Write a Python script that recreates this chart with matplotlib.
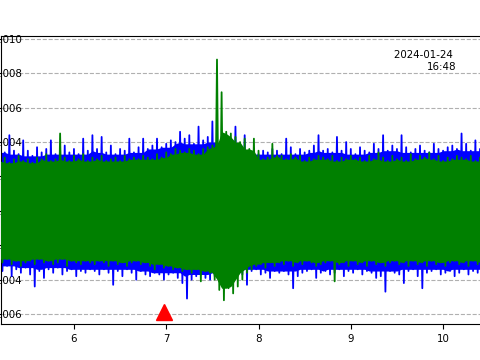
import numpy as np
import matplotlib
matplotlib.use("Agg")
import matplotlib.pyplot as plt
from numpy.lib.stride_tricks import sliding_window_view

# envelope of the two traces, every 0.05 s (units of 1e-3)
t0 = 5.20
dt = 0.05
blue_hi = [3.6, 3.4, 4.4, 3.5, 3.3, 4.1, 3.5, 3.2, 3.7, 3.4,
           3.6, 4.1, 3.3, 3.5, 3.8, 3.4, 3.6, 3.3, 4.2, 3.5,
           4.4, 3.6, 4.3, 3.4, 3.8, 3.3, 3.6, 3.5, 4.2, 3.4,
           3.7, 4.2, 3.6, 3.8, 4.2, 3.7, 3.9, 4.1, 4.0, 4.6,
           4.2, 4.4, 3.9, 4.9, 4.1, 4.3, 5.2, 4.0, 4.1, 4.0,
           4.2, 4.9, 3.8, 4.4, 3.5, 3.6, 3.3, 3.5, 3.4, 3.6,
           3.5, 3.3, 4.2, 3.7, 3.3, 3.6, 3.4, 3.5, 3.8, 4.4,
           3.5, 3.6, 3.4, 4.3, 3.5, 4.0, 3.6, 3.3, 3.7, 3.5,
           3.4, 3.9, 3.6, 4.4, 3.5, 3.8, 3.6, 4.4, 3.7, 3.4,
           3.6, 3.8, 3.5, 3.4, 3.9, 3.6, 3.5, 3.7, 3.8, 3.6,
           4.5, 3.9, 3.5, 4.1, 3.6]
blue_lo = [-3.5, -3.2, -3.8, -3.4, -3.6, -3.3, -3.7, -4.4, -3.5, -3.9,
           -3.4, -3.6, -3.3, -3.7, -3.5, -3.4, -3.8, -3.5, -3.6, -3.4,
           -3.5, -3.7, -3.4, -3.6, -4.3, -3.5, -3.8, -3.4, -3.6, -4.0,
           -3.5, -3.7, -3.8, -3.6, -3.7, -4.0, -3.7, -3.6, -3.9, -4.2,
           -5.1, -4.0, -3.8, -3.7, -3.9, -4.0, -3.8, -4.1, -3.6, -3.9,
           -3.8, -3.6, -3.7, -4.3, -3.5, -3.4, -3.7, -3.6, -3.9, -3.5,
           -3.6, -3.5, -3.7, -4.5, -3.8, -3.6, -3.5, -3.4, -3.9, -3.6,
           -3.5, -3.7, -3.6, -3.4, -3.8, -3.5, -3.6, -3.4, -3.7, -3.5,
           -3.6, -3.9, -3.8, -4.7, -3.5, -3.6, -3.7, -4.2, -3.5, -3.4,
           -3.8, -4.5, -3.6, -3.5, -3.4, -3.7, -3.6, -3.5, -3.8, -3.6,
           -3.4, -3.7, -3.5, -3.6, -3.4]
green_hi = [2.9, 3.1, 2.8, 3.0, 3.2, 2.9, 3.0, 2.8, 3.1, 3.0,
            3.3, 2.9, 3.0, 4.5, 3.1, 2.9, 3.2, 3.0, 3.3, 2.9,
            3.1, 3.0, 3.2, 2.9, 3.0, 3.1, 2.9, 3.2, 3.0, 3.1,
            3.0, 3.2, 3.1, 3.0, 3.3, 3.1, 3.4, 3.3, 3.6, 3.5,
            3.4, 3.6, 3.5, 3.3, 3.6, 3.7, 3.8, 8.8, 6.9, 4.6,
            4.5, 4.3, 4.0, 4.2, 3.6, 4.2, 3.5, 3.0, 3.1, 3.9,
            3.2, 3.2, 3.0, 3.3, 3.1, 3.2, 2.9, 3.1, 3.0, 3.2,
            3.1, 3.0, 3.2, 2.9, 3.1, 3.0, 3.2, 3.0, 3.1, 2.9,
            3.2, 3.0, 3.4, 3.1, 2.9, 3.2, 3.0, 3.1, 2.9, 3.3,
            3.0, 3.2, 3.1, 3.4, 3.0, 3.2, 2.9, 3.1, 3.0, 3.2,
            3.1, 3.0, 3.2, 2.9, 3.1]
green_lo = [-3.0, -2.8, -3.1, -2.9, -3.2, -3.0, -2.9, -3.1, -2.8, -3.0,
            -2.9, -3.1, -3.0, -2.8, -3.2, -2.9, -3.0, -3.1, -2.9, -3.0,
            -3.1, -2.9, -3.0, -3.2, -2.9, -3.1, -3.0, -3.2, -3.0, -2.9,
            -3.1, -3.0, -3.2, -3.4, -3.1, -3.3, -3.2, -3.4, -3.3, -3.5,
            -3.4, -3.6, -3.4, -4.1, -3.5, -3.6, -4.0, -4.6, -5.2, -4.5,
            -4.8, -4.4, -4.0, -3.6, -3.4, -3.2, -3.1, -3.3, -3.0, -3.2,
            -3.0, -3.1, -2.9, -3.2, -3.0, -3.1, -2.9, -3.0, -3.2, -3.1,
            -3.0, -2.9, -4.1, -3.1, -3.0, -3.2, -2.9, -3.1, -3.0, -3.2,
            -2.9, -3.1, -3.0, -3.2, -3.0, -2.9, -3.1, -3.0, -3.2, -2.9,
            -3.1, -3.0, -3.2, -2.9, -3.1, -3.0, -3.2, -3.0, -2.9, -3.1,
            -3.0, -3.2, -2.9, -3.1, -3.0]

pick_time = 6.975
pick_amp = -0.00588
stamp = "2024-01-24 \n16:48"
yticks = [-0.006, -0.004, -0.002, 0.0, 0.002, 0.004, 0.006, 0.008, 0.010]
xticks = [6, 7, 8, 9, 10]

plt.rcParams["font.size"] = 7.4


def draw_trace(ax, hi, lo, color, z, win):
    hi = np.array(hi) * 1e-3
    lo = np.array(lo) * 1e-3
    t = t0 + dt * np.arange(len(hi))
    # solid core: the smallest swing among neighbouring bins
    k = win // 2
    core_hi = sliding_window_view(np.pad(hi, k, mode="edge"), win).min(axis=1)
    core_lo = sliding_window_view(np.pad(lo, k, mode="edge"), win).max(axis=1)
    ax.fill_between(t, core_lo, core_hi, color=color, lw=0, zorder=z)
    # spikes: alternate max / min inside each bin
    x = np.column_stack([t, t + dt / 2]).ravel()
    y = np.column_stack([hi, lo]).ravel()
    ax.plot(x, y, color=color, lw=1.3, zorder=z)


fig = plt.figure(figsize=(4.8, 3.6), dpi=100)
ax = fig.add_axes([0.002, 0.1, 0.998, 0.8])

draw_trace(ax, blue_hi, blue_lo, "blue", 2, 5)
draw_trace(ax, green_hi, green_lo, "green", 3, 3)
ax.plot([pick_time], [pick_amp], marker="^", color="red", markersize=12,
        linestyle="none", clip_on=False, zorder=5)

ax.set_xlim(5.209, 10.40)
ax.set_ylim(-0.00658, 0.01017)
ax.set_xticks(xticks)
ax.set_yticks(yticks)
ax.set_yticklabels(["%.3f" % v for v in yticks])
ax.tick_params(axis="y", pad=-18.6)
ax.set_axisbelow(True)
ax.grid(axis="y", color="#b0b0b0", linestyle="--", linewidth=0.8)
ax.spines["right"].set_visible(False)

fig.text(0.951, 0.861, stamp, ha="right", va="top", multialignment="right")

fig.savefig("out.png", dpi=100)
